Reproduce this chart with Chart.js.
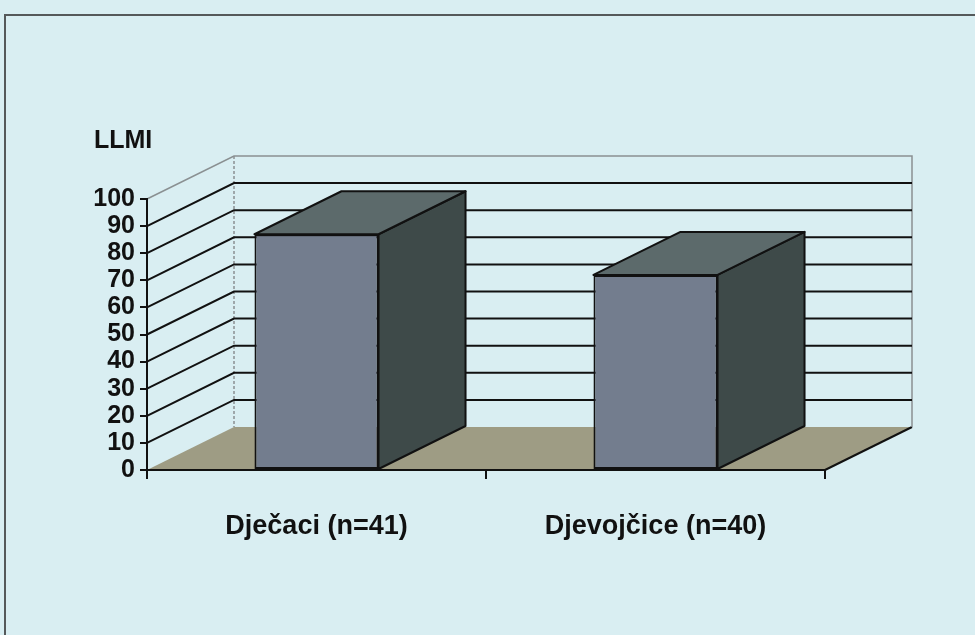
<!DOCTYPE html>
<html>
<head>
<meta charset="utf-8">
<script src="https://cdn.jsdelivr.net/npm/chart.js@4.4.0/dist/chart.umd.min.js"></script>
<style>
  html, body { margin: 0; padding: 0; background: #d9eef2; }
  #wrap { width: 975px; height: 635px; }
  canvas { display: block; }
</style>
</head>
<body>
<div id="wrap"><canvas id="c" width="975" height="635"></canvas></div>
<script>
// ---- data ----
const categories = ["Dječaci (n=41)", "Djevojčice (n=40)"];
const llmiValues = [87, 72];
const yTickValues = [0, 10, 20, 30, 40, 50, 60, 70, 80, 90, 100];
const yAxisTitle = "LLMI";

// ---- style ----
const FONT = "'Liberation Sans', Arial, sans-serif";
const DX = 87, DY = -43;          // 3D depth offset
const BG = '#d9eef2';
const FRONT = '#737d8e', SIDE = '#3e4a49', TOP = '#5c6a6b', FLOOR = '#9e9c84';

const threeD = {
  id: 'threeD',
  beforeDraw(chart) {
    const { ctx, chartArea: a, scales: { y } } = chart;
    ctx.save();
    ctx.fillStyle = BG;
    ctx.fillRect(0, 0, chart.width, chart.height);
    // frame
    ctx.strokeStyle = '#55595a';
    ctx.lineWidth = 2;
    ctx.strokeRect(5, 15, chart.width + 20, chart.height + 20);

    const yMin = yTickValues[0], yMax = yTickValues[yTickValues.length - 1];
    const y0 = y.getPixelForValue(yMin), yT = y.getPixelForValue(yMax);

    // floor
    ctx.fillStyle = FLOOR;
    ctx.beginPath();
    ctx.moveTo(a.left, y0);
    ctx.lineTo(a.left + DX, y0 + DY);
    ctx.lineTo(a.right + DX, y0 + DY);
    ctx.lineTo(a.right, y0);
    ctx.closePath();
    ctx.fill();
    ctx.strokeStyle = '#111';
    ctx.lineWidth = 2;
    ctx.beginPath();
    ctx.moveTo(a.right, y0);
    ctx.lineTo(a.right + DX, y0 + DY);
    ctx.stroke();

    // wall outlines (grey)
    ctx.strokeStyle = '#8a9092';
    ctx.lineWidth = 1.5;
    ctx.beginPath();
    ctx.moveTo(a.left, yT);
    ctx.lineTo(a.left + DX, yT + DY);
    ctx.lineTo(a.right + DX, yT + DY);
    ctx.lineTo(a.right + DX, y0 + DY);
    ctx.stroke();
    ctx.setLineDash([3, 2]);
    ctx.beginPath();
    ctx.moveTo(a.left + DX, yT + DY);
    ctx.lineTo(a.left + DX, y0 + DY);
    ctx.stroke();
    ctx.setLineDash([]);

    // gridlines on side wall and back wall
    ctx.strokeStyle = '#111';
    ctx.lineWidth = 2;
    yTickValues.forEach(v => {
      if (v === yMin || v === yMax) return;
      const py = y.getPixelForValue(v);
      ctx.beginPath();
      ctx.moveTo(a.left, py);
      ctx.lineTo(a.left + DX, py + DY);
      ctx.lineTo(a.right + DX, py + DY);
      ctx.stroke();
    });

    // axis title
    ctx.fillStyle = '#111';
    ctx.font = 'bold 25px ' + FONT;
    ctx.textAlign = 'left';
    ctx.textBaseline = 'middle';
    ctx.fillText(yAxisTitle, 94, 141);
    ctx.restore();
  },
  afterDatasetsDraw(chart) {
    const { ctx } = chart;
    const meta = chart.getDatasetMeta(0);
    ctx.save();
    ctx.strokeStyle = '#111';
    ctx.lineWidth = 2;
    ctx.lineJoin = 'round';
    meta.data.forEach(bar => {
      const p = bar.getProps(['x', 'y', 'base', 'width'], true);
      const l = p.x - p.width / 2, r = p.x + p.width / 2;
      const top = p.y, base = p.base;
      // side face
      ctx.fillStyle = SIDE;
      ctx.beginPath();
      ctx.moveTo(r, top);
      ctx.lineTo(r + DX, top + DY);
      ctx.lineTo(r + DX, base + DY);
      ctx.lineTo(r, base);
      ctx.closePath();
      ctx.fill();
      ctx.stroke();
      // top face
      ctx.fillStyle = TOP;
      ctx.beginPath();
      ctx.moveTo(l, top);
      ctx.lineTo(l + DX, top + DY);
      ctx.lineTo(r + DX, top + DY);
      ctx.lineTo(r, top);
      ctx.closePath();
      ctx.fill();
      ctx.stroke();
    });
    ctx.restore();
  }
};

new Chart(document.getElementById('c'), {
  type: 'bar',
  data: {
    labels: categories,
    datasets: [{
      data: llmiValues,
      backgroundColor: FRONT,
      borderColor: '#111',
      borderWidth: 2,
      borderSkipped: false,
      categoryPercentage: 1,
      barPercentage: 0.366
    }]
  },
  options: {
    responsive: false,
    animation: false,
    devicePixelRatio: 1,
    layout: { padding: { left: 0, top: 199, right: 150, bottom: 60 } },
    plugins: { legend: { display: false }, tooltip: { enabled: false }, title: { display: false } },
    scales: {
      x: {
        offset: true,
        afterFit(scale) { scale.height = 105; },
        grid: { display: true, offset: true, drawOnChartArea: false, drawTicks: true, tickLength: 9, color: '#111', lineWidth: 2 },
        border: { display: true, color: '#111', width: 2 },
        ticks: { color: '#111', font: { family: FONT, size: 27, weight: 'bold' }, padding: 31, maxRotation: 0 }
      },
      y: {
        min: 0,
        max: 100,
        afterFit(scale) { scale.width = 147; },
        afterBuildTicks(scale) { scale.ticks = yTickValues.map(v => ({ value: v })); },
        grid: { display: true, drawOnChartArea: false, drawTicks: true, tickLength: 7, color: '#111', lineWidth: 2 },
        border: { display: true, color: '#111', width: 2 },
        ticks: { color: '#111', autoSkip: false, font: { family: FONT, size: 25, weight: 'bold' }, padding: 5 }
      }
    }
  },
  plugins: [threeD]
});
</script>
</body>
</html>
